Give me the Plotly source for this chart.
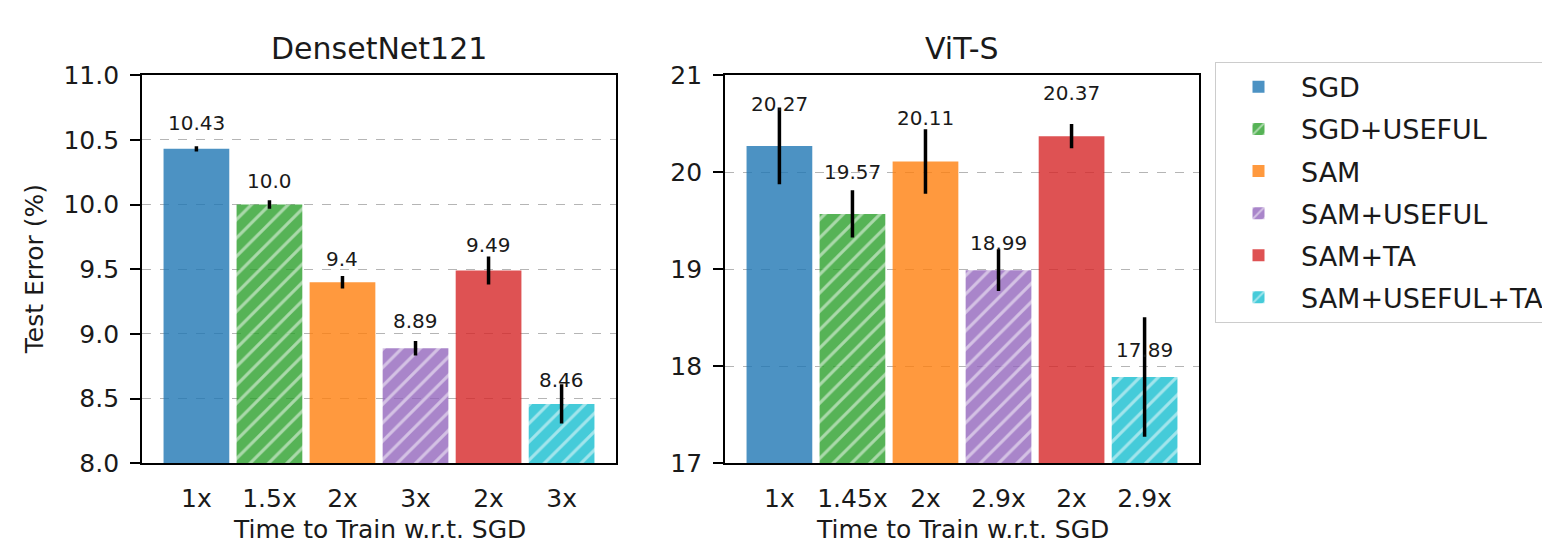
import plotly.graph_objects as go

# ---------------- data ----------------
methods = ["SGD", "SGD+USEFUL", "SAM", "SAM+USEFUL", "SAM+TA", "SAM+USEFUL+TA"]
hatched = [False, True, False, True, False, True]

dense_time_labels = ["1x", "1.5x", "2x", "3x", "2x", "3x"]
dense_err = [10.43, 10.0, 9.4, 8.89, 9.49, 8.46]
dense_std = [0.02, 0.033, 0.048, 0.056, 0.108, 0.152]

vit_time_labels = ["1x", "1.45x", "2x", "2.9x", "2x", "2.9x"]
vit_err = [20.27, 19.57, 20.11, 18.99, 20.37, 17.89]
vit_std = [0.395, 0.244, 0.333, 0.215, 0.125, 0.615]

dense_ticks = [8.0, 8.5, 9.0, 9.5, 10.0, 10.5, 11.0]
vit_ticks = [17, 18, 19, 20, 21]

# ---------------- styles ----------------
colors = ["rgba(31,119,180,0.8)", "rgba(44,160,44,0.8)", "rgba(255,127,14,0.8)",
          "rgba(148,103,189,0.8)", "rgba(214,39,40,0.8)", "rgba(23,190,207,0.8)"]
dense_label_shift = [26, 24, 23, 27, 26, 24]
vit_label_shift = [42, 42, 43, 27, 43, 27]

W, H = 1550, 550
FONT = "DejaVu Sans"
left_dom = [134 / W, 608 / W]
right_dom = [717 / W, 1191 / W]
y_dom = [1 - 466 / H, 1 - 56 / H]

fig = go.Figure()

panels = [
    ("x", "y", dense_err, dense_std, True),
    ("x2", "y2", vit_err, vit_std, False),
]
for xa, ya, vals, stds, show in panels:
    for i, name in enumerate(methods):
        fig.add_trace(go.Bar(
            x=[i], y=[vals[i]], width=0.9, name=name,
            xaxis=xa, yaxis=ya,
            legendgroup=name, showlegend=show,
            marker=dict(
                color=colors[i], line=dict(width=0),
                pattern=dict(shape="/" if hatched[i] else "", fgcolor="white",
                             size=13, solidity=0.24),
            ),
            error_y=dict(type="data", array=[stds[i]], color="black",
                         thickness=3.5, width=0, visible=True),
        ))

annotations = []
for xa, ya, vals, shifts in [("x", "y", dense_err, dense_label_shift),
                             ("x2", "y2", vit_err, vit_label_shift)]:
    for i, v in enumerate(vals):
        annotations.append(dict(
            x=i, y=v, xref=xa, yref=ya, text=str(v), showarrow=False,
            yshift=shifts[i], font=dict(size=20, color="#1a1a1a", family=FONT),
        ))

# titles and axis titles
for dom, title in [(left_dom, "DensetNet121"), (right_dom, "ViT-S")]:
    cx = (dom[0] + dom[1]) / 2
    annotations.append(dict(x=cx, y=1 - 28 / H, xref="paper", yref="paper",
                            text=title, showarrow=False, xanchor="center", yanchor="middle",
                            font=dict(size=30, color="#1a1a1a", family=FONT)))
    annotations.append(dict(x=cx, y=1 - 536 / H, xref="paper", yref="paper",
                            text="Time to Train w.r.t. SGD", showarrow=False,
                            xanchor="center", yanchor="middle",
                            font=dict(size=25, color="#1a1a1a", family=FONT)))
annotations.append(dict(x=26 / W, y=(y_dom[0] + y_dom[1]) / 2, xref="paper", yref="paper",
                        text="Test Error (%)", showarrow=False, textangle=-90,
                        xanchor="center", yanchor="middle",
                        font=dict(size=25, color="#1a1a1a", family=FONT)))

xcommon = dict(range=[-0.745, 5.745], tickmode="array", tickvals=list(range(len(methods))),
               showline=True, mirror=True, linecolor="black", linewidth=1.8,
               ticks="", showgrid=False, zeroline=False, ticklabelstandoff=12,
               tickfont=dict(size=25, color="#1a1a1a", family=FONT), fixedrange=True)
ycommon = dict(showline=True, mirror=True, linecolor="black", linewidth=1.8,
               ticks="outside", ticklen=10, tickwidth=1.8, tickcolor="black",
               showgrid=True, gridcolor="#b5b5b5", griddash="dash", gridwidth=1.3,
               zeroline=False, ticklabelstandoff=6,
               tickfont=dict(size=25, color="#1a1a1a", family=FONT), domain=y_dom)

fig.update_layout(
    width=W, height=H,
    margin=dict(l=0, r=0, t=0, b=0),
    paper_bgcolor="white", plot_bgcolor="white",
    font=dict(family=FONT, color="#1a1a1a"),
    barmode="overlay",
    xaxis=dict(domain=left_dom, ticktext=dense_time_labels, anchor="y", **xcommon),
    yaxis=dict(range=[8, 11], tickvals=dense_ticks, tickformat=".1f", anchor="x", **ycommon),
    xaxis2=dict(domain=right_dom, ticktext=vit_time_labels, anchor="y2", **xcommon),
    yaxis2=dict(range=[17, 21], tickvals=vit_ticks, tickformat="d", anchor="x2", **ycommon),
    legend=dict(x=1207 / W, y=1 - 42 / H, xanchor="left", yanchor="top",
                bordercolor="#cccccc", borderwidth=1, bgcolor="white",
                font=dict(size=27, color="#1a1a1a", family=FONT),
                itemwidth=75, tracegroupgap=4, traceorder="grouped"),
    annotations=annotations,
    showlegend=True,
)

fig.write_html("out.html")
